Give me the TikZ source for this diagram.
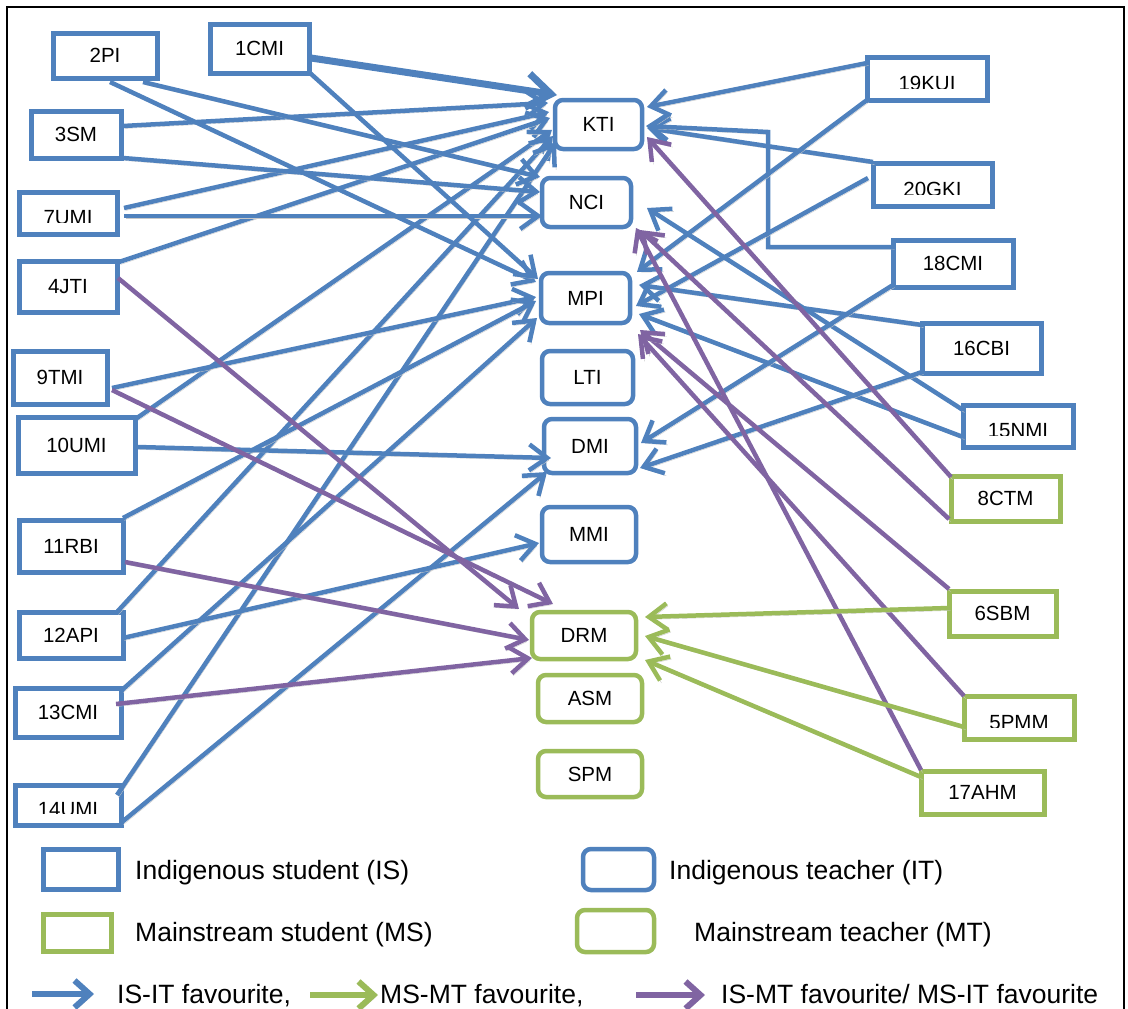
\documentclass[tikz,border=0pt]{standalone}
\usepackage{fontspec}
\setmainfont{Liberation Sans}
\usetikzlibrary{arrows.meta}
\definecolor{isblue}{HTML}{4F81BD}
\definecolor{msgreen}{HTML}{9BBB59}
\definecolor{mixpurple}{HTML}{8064A2}
\definecolor{shadowgrey}{HTML}{C8C8C8}
\newcommand{\boxfont}{\fontsize{20.5}{24}\selectfont}
\newcommand{\keyfont}{\fontsize{26.5}{30}\selectfont}
\begin{document}
\begin{tikzpicture}[x=1pt,y=-1pt,
  wh/.style 2 args={minimum width=#1pt,minimum height=#2pt},
  card/.style={draw, fill=white, inner sep=0pt, outer sep=0pt, font=\boxfont, text=black},
  isnode/.style={card, draw=isblue, line width=5pt},
  msnode/.style={card, draw=msgreen, line width=5pt},
  itnode/.style={card, draw=isblue, line width=4.5pt, rounded corners=8pt},
  mtnode/.style={card, draw=msgreen, line width=4.5pt, rounded corners=8pt},
  cut/.style={path picture={
      \clip ([yshift=12pt]path picture bounding box.south west) rectangle (path picture bounding box.north east);
      \node[font=\boxfont, inner sep=0pt, text=black] at ([yshift=-5pt]path picture bounding box.center) {#1};}},
  link/.style={line width=4.5pt, -{Straight Barb[length=18pt,width=26pt]},
      preaction={draw=shadowgrey, transform canvas={shift={(1.5pt,-2.5pt)}}}},
  isit/.style={link, draw=isblue},
  msmt/.style={link, draw=msgreen},
  mixed/.style={link, draw=mixpurple},
  keyarrow/.style={line width=6pt, -{Straight Barb[length=15pt,width=27pt]},
      preaction={draw=shadowgrey, transform canvas={shift={(1.5pt,-2.5pt)}}}},
  keytext/.style={anchor=base west, font=\keyfont, inner sep=0pt},
]
\useasboundingbox (0,0) rectangle (1128,1009);

% outer frame
\draw[line width=2.5pt] (7,1009) -- (7,7) -- (1124,7) -- (1124,1009);

% students, left column
\node[isnode, wh={104}{45}] (n2PI)   at (105,55.5)  {2PI};
\node[isnode, wh={99}{49}]  (n1CMI)  at (259.5,48.5) {1CMI};
\node[isnode, wh={90}{47}]  (n3SM)   at (76,134.5)  {3SM};
\node[isnode, wh={98}{42}, cut=7UMI] (n7UMI) at (68,213) {};
\node[isnode, wh={98}{51}]  (n4JTI)  at (68,286.5)  {4JTI};
\node[isnode, wh={94}{53}]  (n9TMI)  at (60,377.5)  {9TMI};
\node[isnode, wh={117}{56}] (n10UMI) at (76.5,445)  {10UMI};
\node[isnode, wh={104}{52}] (n11RBI) at (71,546)    {11RBI};
\node[isnode, wh={104}{46}] (n12API) at (71,635)    {12API};
\node[isnode, wh={106}{49}] (n13CMI) at (68,712.5)  {13CMI};
\node[isnode, wh={106}{40}, cut=14UMI] (n14UMI) at (68,805) {};

% teachers, centre column
\node[itnode, wh={87}{49}]  (KTI) at (598.5,124.5) {KTI};
\node[itnode, wh={89}{49}]  (NCI) at (586.5,202.5) {NCI};
\node[itnode, wh={89}{50}]  (MPI) at (585.5,298)   {MPI};
\node[itnode, wh={91}{53}]  (LTI) at (587.5,377.5) {LTI};
\node[itnode, wh={92}{54}]  (DMI) at (590,446)     {DMI};
\node[itnode, wh={94}{55}]  (MMI) at (589,534.5)   {MMI};
\node[mtnode, wh={104}{47}] (DRM) at (584,635.5)   {DRM};
\node[mtnode, wh={104}{47}] (ASM) at (590,698.5)   {ASM};
\node[mtnode, wh={104}{46}] (SPM) at (590,774)     {SPM};

% students, right column
\node[isnode, wh={120}{43}, cut=19KUI] (n19KUI) at (927,78.5) {};
\node[isnode, wh={119}{43}, cut=20GKI] (n20GKI) at (932.5,184.5) {};
\node[isnode, wh={120}{47}] (n18CMI) at (953,263.5)  {18CMI};
\node[isnode, wh={119}{50}] (n16CBI) at (981.5,348)  {16CBI};
\node[isnode, wh={110}{42}, cut=15NMI] (n15NMI) at (1018,426) {};
\node[msnode, wh={109}{45}] (n8CTM)  at (1005.5,498.5) {8CTM};
\node[msnode, wh={107}{45}] (n6SBM)  at (1002.5,613.5) {6SBM};
\node[msnode, wh={110}{43}, cut=5PMM] (n5PMM) at (1019,717.5) {};
\node[msnode, wh={123}{43}] (n17AHM) at (982.5,792.5) {17AHM};

% IS-IT favourites
\draw[isit, line width=7pt, -{Straight Barb[length=24pt,width=34pt]}]
      ([shift={(51.5,9.5)}]n1CMI.center) -- ([shift={(-41.5,-29.5)}]KTI.center);
\draw[isit] ([shift={(47,-8.5)}]n3SM.center)    -- ([shift={(-50.5,-21.5)}]KTI.center);
\draw[isit] ([shift={(56,-5)}]n7UMI.center)     -- ([shift={(-49.5,-12.5)}]KTI.center);
\draw[isit] ([shift={(51,-24.5)}]n4JTI.center)  -- ([shift={(-48.5,-6.5)}]KTI.center);
\draw[isit] ([shift={(60.5,-27)}]n10UMI.center) -- ([shift={(-46.5,5.5)}]KTI.center);
\draw[isit] ([shift={(46,-23)}]n12API.center)   -- ([shift={(-45.5,11.5)}]KTI.center);
\draw[isit] ([shift={(49,-10)}]n14UMI.center)   -- ([shift={(-42.5,17.5)}]KTI.center);
\draw[isit] ([shift={(38,26.5)}]n2PI.center)    -- ([shift={(-46.5,-25.5)}]NCI.center);
\draw[isit] ([shift={(47,23.5)}]n3SM.center)    -- ([shift={(-46.5,-10.5)}]NCI.center);
\draw[isit] ([shift={(56,3)}]n7UMI.center)      -- ([shift={(-44.5,13.5)}]NCI.center);
\draw[isit] ([shift={(5,26.5)}]n2PI.center)     -- ([shift={(-49.5,-16)}]MPI.center);
\draw[isit] ([shift={(50.5,24.5)}]n1CMI.center) -- ([shift={(-47.5,-19)}]MPI.center);
\draw[isit] ([shift={(52,10.5)}]n9TMI.center)   -- ([shift={(-49.5,-1)}]MPI.center);
\draw[isit] ([shift={(52,-28)}]n11RBI.center)   -- ([shift={(-49.5,3)}]MPI.center);
\draw[isit] ([shift={(54,-22.5)}]n13CMI.center) -- ([shift={(-48.5,20)}]MPI.center);
\draw[isit] ([shift={(60.5,2)}]n10UMI.center)   -- ([shift={(-39,12)}]DMI.center);
\draw[isit] ([shift={(54,17)}]n14UMI.center)    -- ([shift={(-43,26)}]DMI.center);
\draw[isit] ([shift={(52,3)}]n12API.center)     -- ([shift={(-50,8.5)}]MMI.center);

\draw[isit] ([shift={(-60,-15.5)}]n19KUI.center) -- ([shift={(48.5,-17.5)}]KTI.center);
\draw[isit] ([shift={(-59.5,-22.5)}]n20GKI.center) -- ([shift={(48.5,3.5)}]KTI.center);
\draw[isit] ([shift={(-60,-16.5)}]n18CMI.center) -- ++(-125,0) -- ++(0,-115)
            -- ([shift={(47.5,1.5)}]KTI.center);
\draw[isit] ([shift={(-60,21.5)}]n19KUI.center)  -- ([shift={(51.5,-26)}]MPI.center);
\draw[isit] ([shift={(-64.5,-6.5)}]n20GKI.center) -- ([shift={(50.5,8)}]MPI.center);
\draw[isit] ([shift={(-59.5,-23)}]n16CBI.center) -- ([shift={(53.5,-13)}]MPI.center);
\draw[isit] ([shift={(-55,11)}]n15NMI.center)    -- ([shift={(53.5,16)}]MPI.center);
\draw[isit] ([shift={(-55,-16)}]n15NMI.center)   -- ([shift={(60.5,5.5)}]NCI.center);
\draw[isit] ([shift={(-60,21.5)}]n18CMI.center)  -- ([shift={(51,-3)}]DMI.center);
\draw[isit] ([shift={(-59.5,24)}]n16CBI.center)  -- ([shift={(50,22)}]DMI.center);

% IS-MT / MS-IT favourites
\draw[mixed] ([shift={(50,-8.5)}]n4JTI.center)   -- ([shift={(-65,-26.5)}]DRM.center);
\draw[mixed] ([shift={(52,12.5)}]n9TMI.center)   -- ([shift={(-31,-31.5)}]DRM.center);
\draw[mixed] ([shift={(54,16)}]n11RBI.center)    -- ([shift={(-55,4.5)}]DRM.center);
\draw[mixed] ([shift={(48,-8.5)}]n13CMI.center)  -- ([shift={(-52,22.5)}]DRM.center);
\draw[mixed] ([shift={(-54.5,-21.5)}]n8CTM.center) -- ([shift={(48.5,12.5)}]KTI.center);
\draw[mixed] ([shift={(-56.5,20.5)}]n8CTM.center)  -- ([shift={(53.5,27.5)}]NCI.center);
\draw[mixed] ([shift={(-61.5,-22.5)}]n17AHM.center) -- ([shift={(49.5,25.5)}]NCI.center);
\draw[mixed] ([shift={(-53.5,-24.5)}]n6SBM.center) -- ([shift={(54.5,32)}]MPI.center);
\draw[mixed] ([shift={(-55,-21.5)}]n5PMM.center)   -- ([shift={(52.5,36)}]MPI.center);

% MS-MT favourites
\draw[msmt] ([shift={(-53.5,-5.5)}]n6SBM.center)   -- ([shift={(61,-18.5)}]DRM.center);
\draw[msmt] ([shift={(-55,9.5)}]n5PMM.center)      -- ([shift={(61,0.5)}]DRM.center);
\draw[msmt] ([shift={(-61.5,-15.5)}]n17AHM.center) -- ([shift={(61,24.5)}]DRM.center);

% key
\node[isnode, wh={75}{40}] (kIS) at (80.5,869) {};
\node[keytext] (tIS) at (135,879) {Indigenous student (IS)};
\node[msnode, wh={68}{37}] (kMS) at (77,932.5) {};
\node[keytext] (tMS) at (135,941) {Mainstream student (MS)};
\node[itnode, wh={71}{41}] (kIT) at (618.5,869.5) {};
\node[keytext] (tIT) at (669,879) {Indigenous teacher (IT)};
\node[mtnode, wh={77}{42}] (kMT) at (615.5,931) {};
\node[keytext] (tMT) at (694,941) {Mainstream teacher (MT)};

\coordinate (a1) at (32,994);  \coordinate (a2) at (94,994);
\coordinate (b1) at (310,995); \coordinate (b2) at (378,995);
\coordinate (c1) at (636,995); \coordinate (c2) at (705,995);
\draw[keyarrow, draw=isblue] (a1) -- (a2);
\draw[keyarrow, draw=msgreen] (b1) -- (b2);
\draw[keyarrow, draw=mixpurple] (c1) -- (c2);
\node[keytext] (tA) at (117,1003) {IS-IT favourite,};
\node[keytext] (tB) at (380,1003) {MS-MT favourite,};
\node[keytext] (tC) at (721,1003) {IS-MT favourite/ MS-IT favourite};
\end{tikzpicture}
\end{document}
